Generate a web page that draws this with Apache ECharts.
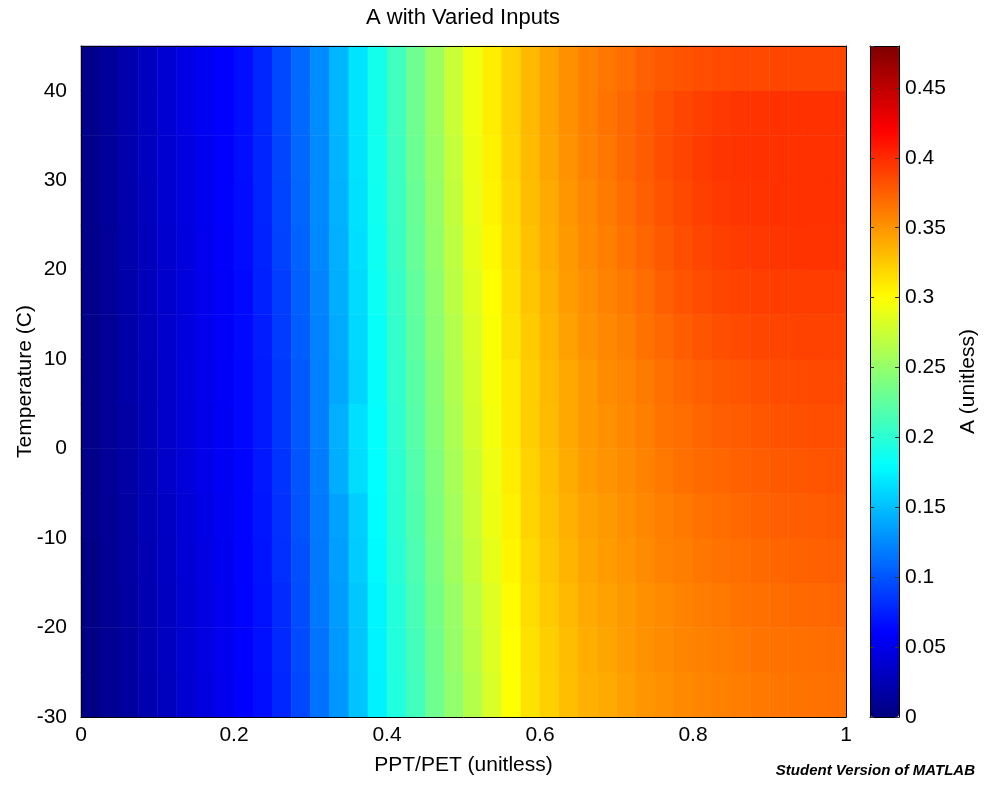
<!DOCTYPE html>
<html>
<head>
<meta charset="utf-8">
<title>A with Varied Inputs</title>
<script src="https://cdn.jsdelivr.net/npm/echarts@6/dist/echarts.min.js"></script>
<style>
  html, body { margin: 0; padding: 0; background: #fff; }
  #chart { width: 986px; height: 788px; }
</style>
</head>
<body>
<div id="chart"></div>
<script>
// cell centres along PPT/PET (0..1) and temperature (-30..45)
const ratioCenters = ['0.0125', '0.0375', '0.0625', '0.0875', '0.1125', '0.1375', '0.1625', '0.1875', '0.2125', '0.2375',
  '0.2625', '0.2875', '0.3125', '0.3375', '0.3625', '0.3875', '0.4125', '0.4375', '0.4625', '0.4875',
  '0.5125', '0.5375', '0.5625', '0.5875', '0.6125', '0.6375', '0.6625', '0.6875', '0.7125', '0.7375',
  '0.7625', '0.7875', '0.8125', '0.8375', '0.8625', '0.8875', '0.9125', '0.9375', '0.9625', '0.9875']
const tempCenters = ['-27.5', '-22.5', '-17.5', '-12.5', '-7.5', '-2.5', '2.5', '7.5', '12.5', '17.5', '22.5', '27.5', '32.5', '37.5', '42.5']

// A values, one row per temperature band
const aTm27 = [0.003, 0.009, 0.015, 0.022, 0.030, 0.038, 0.045, 0.051, 0.060, 0.066, 0.078, 0.094, 0.114, 0.131, 0.152, 0.174, 0.195, 0.211, 0.232, 0.249, 0.265, 0.282, 0.299, 0.313, 0.322, 0.330, 0.337, 0.340, 0.345, 0.349, 0.352, 0.355, 0.357, 0.359, 0.361, 0.363, 0.364, 0.365, 0.366, 0.367]
const aTm22 = [0.003, 0.009, 0.015, 0.023, 0.031, 0.039, 0.046, 0.052, 0.060, 0.067, 0.079, 0.095, 0.115, 0.132, 0.153, 0.175, 0.196, 0.212, 0.233, 0.251, 0.267, 0.284, 0.300, 0.314, 0.323, 0.331, 0.338, 0.342, 0.347, 0.351, 0.354, 0.357, 0.359, 0.361, 0.363, 0.365, 0.366, 0.367, 0.368, 0.369]
const aTm17 = [0.003, 0.010, 0.016, 0.023, 0.031, 0.039, 0.046, 0.052, 0.061, 0.068, 0.080, 0.096, 0.116, 0.133, 0.154, 0.176, 0.197, 0.214, 0.235, 0.252, 0.269, 0.285, 0.302, 0.316, 0.325, 0.333, 0.340, 0.344, 0.348, 0.352, 0.355, 0.358, 0.361, 0.363, 0.365, 0.367, 0.369, 0.370, 0.371, 0.372]
const aTm12 = [0.003, 0.010, 0.017, 0.024, 0.032, 0.040, 0.047, 0.053, 0.061, 0.069, 0.082, 0.098, 0.117, 0.135, 0.156, 0.178, 0.199, 0.216, 0.237, 0.255, 0.272, 0.288, 0.304, 0.318, 0.327, 0.335, 0.342, 0.346, 0.350, 0.354, 0.358, 0.361, 0.364, 0.366, 0.368, 0.370, 0.372, 0.373, 0.374, 0.375]
const aTm7 = [0.004, 0.010, 0.017, 0.025, 0.033, 0.041, 0.048, 0.054, 0.062, 0.070, 0.083, 0.099, 0.118, 0.136, 0.157, 0.179, 0.200, 0.218, 0.239, 0.257, 0.274, 0.291, 0.306, 0.320, 0.329, 0.337, 0.344, 0.348, 0.352, 0.356, 0.360, 0.363, 0.366, 0.369, 0.371, 0.373, 0.375, 0.376, 0.377, 0.378]
const aTm2 = [0.004, 0.011, 0.018, 0.025, 0.034, 0.042, 0.049, 0.055, 0.062, 0.071, 0.084, 0.100, 0.119, 0.142, 0.164, 0.180, 0.201, 0.219, 0.240, 0.259, 0.276, 0.292, 0.308, 0.321, 0.330, 0.339, 0.346, 0.350, 0.354, 0.358, 0.363, 0.367, 0.370, 0.372, 0.374, 0.376, 0.378, 0.379, 0.380, 0.381]
const aT2 = [0.004, 0.011, 0.018, 0.026, 0.034, 0.042, 0.049, 0.055, 0.063, 0.072, 0.086, 0.102, 0.120, 0.143, 0.165, 0.181, 0.202, 0.221, 0.242, 0.261, 0.279, 0.294, 0.310, 0.323, 0.332, 0.341, 0.348, 0.352, 0.356, 0.360, 0.365, 0.369, 0.372, 0.375, 0.377, 0.379, 0.381, 0.382, 0.383, 0.383]
const aT7 = [0.004, 0.011, 0.019, 0.026, 0.035, 0.043, 0.050, 0.056, 0.063, 0.072, 0.086, 0.102, 0.120, 0.139, 0.160, 0.182, 0.203, 0.222, 0.243, 0.262, 0.280, 0.296, 0.310, 0.323, 0.333, 0.341, 0.348, 0.354, 0.357, 0.362, 0.367, 0.371, 0.375, 0.378, 0.380, 0.382, 0.384, 0.385, 0.386, 0.386]
const aT12 = [0.004, 0.011, 0.019, 0.027, 0.036, 0.044, 0.051, 0.057, 0.064, 0.073, 0.088, 0.104, 0.121, 0.140, 0.162, 0.183, 0.204, 0.224, 0.245, 0.264, 0.282, 0.298, 0.313, 0.325, 0.335, 0.344, 0.351, 0.356, 0.360, 0.366, 0.371, 0.376, 0.380, 0.383, 0.385, 0.387, 0.388, 0.389, 0.389, 0.389]
const aT17 = [0.004, 0.012, 0.020, 0.028, 0.036, 0.044, 0.051, 0.057, 0.064, 0.075, 0.089, 0.105, 0.123, 0.142, 0.163, 0.185, 0.206, 0.226, 0.247, 0.267, 0.285, 0.300, 0.315, 0.327, 0.337, 0.346, 0.353, 0.358, 0.363, 0.369, 0.375, 0.380, 0.384, 0.387, 0.389, 0.390, 0.391, 0.391, 0.391, 0.391]
const aT22 = [0.005, 0.012, 0.021, 0.028, 0.037, 0.045, 0.052, 0.058, 0.065, 0.076, 0.091, 0.107, 0.124, 0.143, 0.165, 0.186, 0.207, 0.228, 0.249, 0.269, 0.288, 0.303, 0.317, 0.329, 0.339, 0.348, 0.355, 0.360, 0.366, 0.372, 0.378, 0.383, 0.387, 0.390, 0.392, 0.394, 0.395, 0.396, 0.396, 0.396]
const aT27 = [0.005, 0.013, 0.021, 0.029, 0.038, 0.046, 0.053, 0.059, 0.065, 0.077, 0.092, 0.108, 0.125, 0.144, 0.166, 0.187, 0.208, 0.229, 0.250, 0.271, 0.290, 0.305, 0.318, 0.331, 0.340, 0.349, 0.356, 0.362, 0.369, 0.375, 0.381, 0.386, 0.390, 0.393, 0.395, 0.396, 0.397, 0.397, 0.397, 0.397]
const aT32 = [0.005, 0.013, 0.022, 0.030, 0.038, 0.046, 0.053, 0.059, 0.066, 0.077, 0.093, 0.109, 0.125, 0.145, 0.167, 0.188, 0.209, 0.231, 0.252, 0.272, 0.291, 0.306, 0.320, 0.332, 0.342, 0.351, 0.358, 0.364, 0.371, 0.377, 0.383, 0.388, 0.392, 0.395, 0.396, 0.397, 0.397, 0.397, 0.397, 0.397]
const aT37 = [0.005, 0.013, 0.022, 0.030, 0.039, 0.047, 0.054, 0.060, 0.066, 0.078, 0.094, 0.110, 0.126, 0.146, 0.168, 0.189, 0.210, 0.232, 0.253, 0.274, 0.293, 0.308, 0.321, 0.333, 0.343, 0.352, 0.359, 0.365, 0.371, 0.377, 0.382, 0.387, 0.390, 0.393, 0.395, 0.396, 0.397, 0.397, 0.397, 0.397]
const aT42 = [0.005, 0.013, 0.022, 0.030, 0.039, 0.047, 0.054, 0.060, 0.066, 0.078, 0.094, 0.110, 0.126, 0.146, 0.168, 0.189, 0.210, 0.232, 0.253, 0.274, 0.293, 0.308, 0.321, 0.333, 0.343, 0.352, 0.359, 0.364, 0.369, 0.374, 0.378, 0.381, 0.383, 0.385, 0.386, 0.386, 0.387, 0.387, 0.387, 0.387]

const aRows = [aTm27, aTm22, aTm17, aTm12, aTm7, aTm2, aT2, aT7, aT12, aT17, aT22, aT27, aT32, aT37, aT42]

// MATLAB jet, evenly spaced stops
const jetColors = ['#00007f', '#0000ff', '#007fff', '#00ffff', '#7fff7f', '#ffff00', '#ff7f00', '#ff0000', '#7f0000']

let cells = []
aRows.forEach((row, yi) => {
  row.forEach((v, xi) => cells.push([xi, yi, v]))
})

const font = "'Liberation Sans', Arial, Helvetica, sans-serif"
const black = '#000'
const labelSize = 21

const plainValueAxis = (extra) => Object.assign({
  type: 'value',
  splitLine: { show: false },
  axisTick: { show: false },
  axisLabel: { show: false },
  axisLine: { show: true, onZero: false, lineStyle: { color: black, width: 1 } },
  z: 10,
}, extra)

let option = {
  animation: false,
  textStyle: { fontFamily: font },
  grid: [
    { left: 81, top: 46, width: 765, height: 671, containLabel: false, outerBoundsMode: 'none' },
    { left: 870, top: 46, width: 29, height: 671, containLabel: false, outerBoundsMode: 'none' },
  ],
  xAxis: [
    { type: 'category', gridIndex: 0, data: ratioCenters, show: false },
    plainValueAxis({
      gridIndex: 0, position: 'bottom', min: 0, max: 1, interval: 0.2,
      axisLabel: { show: true, color: black, fontSize: labelSize, margin: 8 },
      name: 'PPT/PET (unitless)', nameLocation: 'middle', nameGap: 38,
      nameTextStyle: { color: black, fontSize: labelSize },
    }),
    plainValueAxis({ gridIndex: 0, position: 'top', min: 0, max: 1 }),
    plainValueAxis({ gridIndex: 1, position: 'bottom', min: 0, max: 1 }),
    plainValueAxis({ gridIndex: 1, position: 'top', min: 0, max: 1 }),
  ],
  yAxis: [
    { type: 'category', gridIndex: 0, data: tempCenters, show: false },
    plainValueAxis({
      gridIndex: 0, position: 'left', min: -30, max: 45, interval: 10,
      axisLabel: { show: true, color: black, fontSize: labelSize, margin: 14, showMaxLabel: false },
      name: 'Temperature (C)', nameLocation: 'middle', nameGap: 45, nameRotate: 90,
      nameMoveOverlap: false,
      nameTextStyle: { color: black, fontSize: labelSize },
    }),
    plainValueAxis({ gridIndex: 0, position: 'right', min: -30, max: 45 }),
    plainValueAxis({
      gridIndex: 1, position: 'right', min: 0, max: 0.48, interval: 0.05,
      axisTick: { show: true, inside: true, length: 4, lineStyle: { color: '#333' } },
      axisLabel: { show: true, color: black, fontSize: labelSize, margin: 6, showMaxLabel: false },
      name: 'A (unitless)', nameLocation: 'middle', nameGap: 59, nameRotate: 90,
      nameTextStyle: { color: black, fontSize: labelSize },
    }),
    plainValueAxis({
      gridIndex: 1, position: 'left', min: 0, max: 0.48, interval: 0.05,
      axisTick: { show: true, inside: true, length: 4, lineStyle: { color: '#333' } },
    }),
  ],
  visualMap: {
    type: 'continuous',
    min: 0,
    max: 0.48,
    seriesIndex: 0,
    dimension: 2,
    calculable: false,
    hoverLink: false,
    left: 870,
    top: 46,
    itemWidth: 29,
    itemHeight: 671,
    padding: 0,
    z: 1,
    inRange: { color: jetColors },
  },
  graphic: [
    {
      type: 'text', x: 463, y: 18,
      style: {
        text: 'A with Varied Inputs', font: '22px ' + font, fill: black,
        align: 'center', verticalAlign: 'middle', textAlign: 'center', textVerticalAlign: 'middle',
      },
    },
    {
      type: 'text', x: 975, y: 771,
      style: {
        text: 'Student Version of MATLAB', font: 'italic bold 15px ' + font, fill: black,
        align: 'right', verticalAlign: 'middle', textAlign: 'right', textVerticalAlign: 'middle',
      },
    },
  ],
  series: [
    {
      type: 'heatmap',
      xAxisIndex: 0,
      yAxisIndex: 0,
      data: cells,
      itemStyle: { borderWidth: 0 },
      emphasis: { disabled: true },
      progressive: 0,
    },
  ],
}

let myChart = echarts.init(document.getElementById('chart'))
myChart.setOption(option)
</script>
</body>
</html>
